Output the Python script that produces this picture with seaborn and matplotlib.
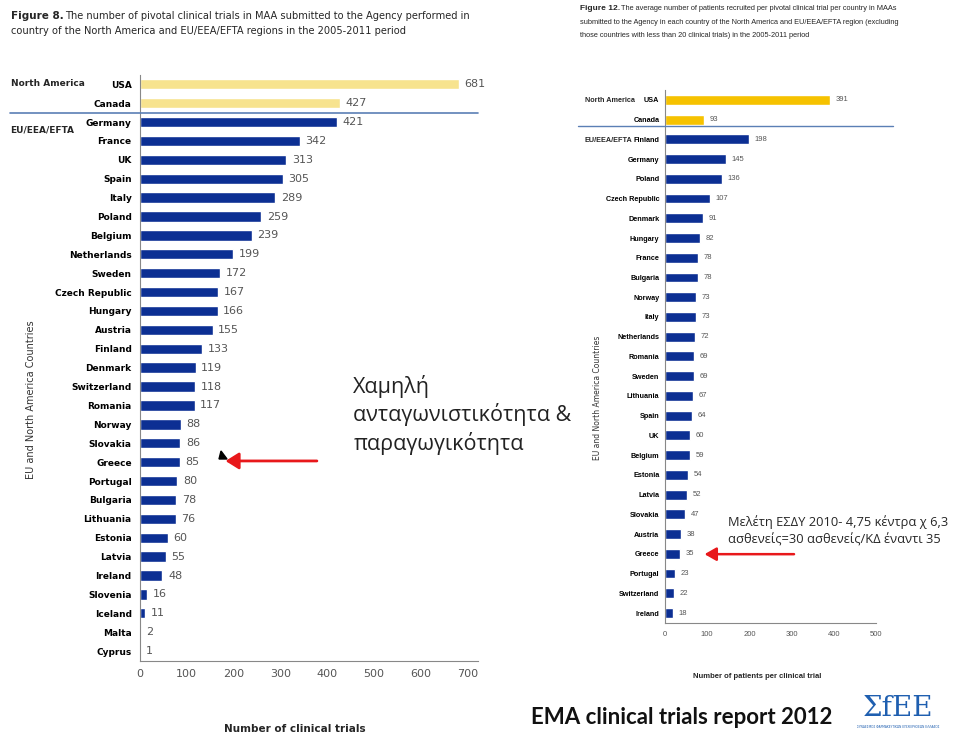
import matplotlib
matplotlib.use("Agg")
import matplotlib.pyplot as plt
import seaborn as sns
import pandas as pd

# Figure 8 data (number of pivotal clinical trials)
trial_countries = ["USA", "Canada", "Germany", "France", "UK", "Spain", "Italy", "Poland",
                   "Belgium", "Netherlands", "Sweden", "Czech Republic", "Hungary", "Austria",
                   "Finland", "Denmark", "Switzerland", "Romania", "Norway", "Slovakia", "Greece",
                   "Portugal", "Bulgaria", "Lithuania", "Estonia", "Latvia", "Ireland", "Slovenia",
                   "Iceland", "Malta", "Cyprus"]
trial_counts = [681, 427, 421, 342, 313, 305, 289, 259, 239, 199, 172, 167, 166, 155, 133,
                119, 118, 117, 88, 86, 85, 80, 78, 76, 60, 55, 48, 16, 11, 2, 1]

# Figure 12 data (average patients per trial)
patient_countries = ["USA", "Canada", "Finland", "Germany", "Poland", "Czech Republic", "Denmark",
                     "Hungary", "France", "Bulgaria", "Norway", "Italy", "Netherlands", "Romania",
                     "Sweden", "Lithuania", "Spain", "UK", "Belgium", "Estonia", "Latvia",
                     "Slovakia", "Austria", "Greece", "Portugal", "Switzerland", "Ireland"]
patient_counts = [391, 93, 198, 145, 136, 107, 91, 82, 78, 78, 73, 73, 72, 69, 69, 67, 64, 60,
                  59, 54, 52, 47, 38, 35, 23, 22, 18]

north_america = ["USA", "Canada"]

sns.set_theme(style="white")
plt.rcParams["font.family"] = ["DejaVu Sans"]

fig = plt.figure(figsize=(9.6, 7.34), dpi=100)

BLUE = "#0c2f93"
GRAY = "#555555"
NARROW = ["Liberation Sans Narrow", "Liberation Sans"]


def draw_bars(ax, countries, values, na_color, height, label_size, tick_size, val_size,
              xmax, xticks, family):
    df = pd.DataFrame({"country": countries, "value": values})
    df["region"] = ["NA" if c in north_america else "EU" for c in countries]
    sns.barplot(data=df, x="value", y="country", hue="region", orient="h",
                palette={"NA": na_color, "EU": BLUE}, dodge=False, legend=False,
                width=height, ax=ax, saturation=1)
    for cont in ax.containers:
        ax.bar_label(cont, padding=4, color=GRAY, fontsize=val_size, family=family)
    ax.set_xlim(0, xmax)
    ax.set_ylim(len(countries) - 0.5, -0.5)
    ax.set_xticks(xticks)
    ax.tick_params(axis="x", labelsize=tick_size, colors=GRAY, length=0, pad=6)
    ax.tick_params(axis="y", labelsize=label_size, length=0, pad=6)
    for lab in ax.get_yticklabels():
        lab.set_fontweight("bold")
        lab.set_color("black")
        lab.set_family(family)
    for lab in ax.get_xticklabels():
        lab.set_family(family)
    ax.set_xlabel("")
    ax.set_ylabel("")
    for s in ["top", "right"]:
        ax.spines[s].set_visible(False)
    for s in ["left", "bottom"]:
        ax.spines[s].set_color("#888888")
        ax.spines[s].set_linewidth(0.8)


# left chart
ax1 = fig.add_axes([0.1458, 0.1001, 0.352, 0.798])
draw_bars(ax1, trial_countries, trial_counts, "#f7e38e", 0.55, 6.5, 8, 8, 722,
          range(0, 701, 100), ["DejaVu Sans"])

# right chart
ax2 = fig.add_axes([0.6927, 0.1514, 0.2198, 0.726])
draw_bars(ax2, patient_countries, patient_counts, "#f6c200", 0.5, 5.2, 5.5, 5.5, 500,
          range(0, 501, 100), NARROW)
ax2.tick_params(axis="y", pad=4)

# titles
fig.text(0.011, 0.978, "Figure 8.", fontsize=7.5, fontweight="bold", va="center")
fig.text(0.068, 0.978, "The number of pivotal clinical trials in MAA submitted to the Agency performed in",
         fontsize=7.1, va="center")
fig.text(0.011, 0.958, "country of the North America and EU/EEA/EFTA regions in the 2005-2011 period",
         fontsize=7.1, va="center")

fig.text(0.604, 0.988, "Figure 12.", fontsize=6, fontweight="bold", va="center", family=NARROW)
fig.text(0.647, 0.988, "The average number of patients recruited per pivotal clinical trial per country in MAAs",
         fontsize=5.3, va="center", family=NARROW)
fig.text(0.604, 0.970, "submitted to the Agency in each country of the North America and EU/EEA/EFTA region (excluding",
         fontsize=5.3, va="center", family=NARROW)
fig.text(0.604, 0.952, "those countries with less than 20 clinical trials) in the 2005-2011 period",
         fontsize=5.3, va="center", family=NARROW)

# region labels and separators
fig.text(0.011, 0.886, "North America", fontsize=6.5, fontweight="bold", va="center")
fig.text(0.011, 0.823, "EU/EEA/EFTA", fontsize=6.5, fontweight="bold", va="center")
fig.add_artist(plt.Line2D([0.01, 0.498], [0.846, 0.846], color="#5b7fb5", lw=1.2))

fig.text(0.609, 0.863, "North America", fontsize=5.2, fontweight="bold", va="center", family=NARROW)
fig.text(0.609, 0.809, "EU/EEA/EFTA", fontsize=5.2, fontweight="bold", va="center", family=NARROW)
fig.add_artist(plt.Line2D([0.602, 0.93], [0.828, 0.828], color="#5b7fb5", lw=1.0))

# axis titles
fig.text(0.032, 0.455, "EU and North America Countries", rotation=90, fontsize=7,
         ha="center", va="center", color="#333333")
fig.text(0.622, 0.458, "EU and North America Countries", rotation=90, fontsize=5.5,
         ha="center", va="center", color="#333333")
fig.text(0.307, 0.007, "Number of clinical trials", fontsize=7.5, fontweight="bold",
         ha="center", va="center")
fig.text(0.789, 0.079, "Number of patients per clinical trial", fontsize=5.5, fontweight="bold",
         ha="center", va="center", family=NARROW)

# annotations
fig.text(0.368, 0.489, "Χαμηλή\nανταγωνιστικότητα &\nπαραγωγικότητα", fontsize=15.5,
         family="Open Sans", ha="left", va="top", linespacing=1.3, color="#222222")
fig.add_artist(matplotlib.patches.FancyArrowPatch((0.333, 0.372), (0.232, 0.372),
               transform=fig.transFigure, arrowstyle="-|>,head_length=8,head_width=5",
               color="#e8181b", lw=2))
fig.add_artist(matplotlib.patches.Polygon(
    [(219 / 960, 1 - 459 / 734), (227 / 960, 1 - 459 / 734), (221 / 960, 1 - 451 / 734)],
    closed=True, transform=fig.transFigure, color="black"))

fig.text(0.758, 0.2766, "Μελέτη ΕΣΔΥ 2010- 4,75 κέντρα χ 6,3\nασθενείς=30 ασθενείς/ΚΔ έναντι 35",
         fontsize=9.3, family="Open Sans", ha="left", va="center", linespacing=1.35)
fig.add_artist(matplotlib.patches.FancyArrowPatch((0.83, 0.245), (0.731, 0.245),
               transform=fig.transFigure, arrowstyle="-|>,head_length=7,head_width=4",
               color="#e8181b", lw=1.8))

# footer
fig.text(0.710, 0.023, "EMA clinical trials report 2012", fontsize=16, fontweight="bold",
         family="Lato", ha="center", va="center", color="#111111")
fig.text(0.936, 0.035, "ΣfEE", fontsize=20, family="DejaVu Serif", color="#1f5fb0",
         ha="center", va="center")
fig.text(0.936, 0.009, "ΣΥΝΔΕΣΜΟΣ ΦΑΡΜΑΚΕΥΤΙΚΩΝ ΕΠΙΧΕΙΡΗΣΕΩΝ ΕΛΛΑΔΟΣ", fontsize=2.2,
         color="#1f5fb0", ha="center", va="center")

fig.savefig("out.png", dpi=100, facecolor="white")
